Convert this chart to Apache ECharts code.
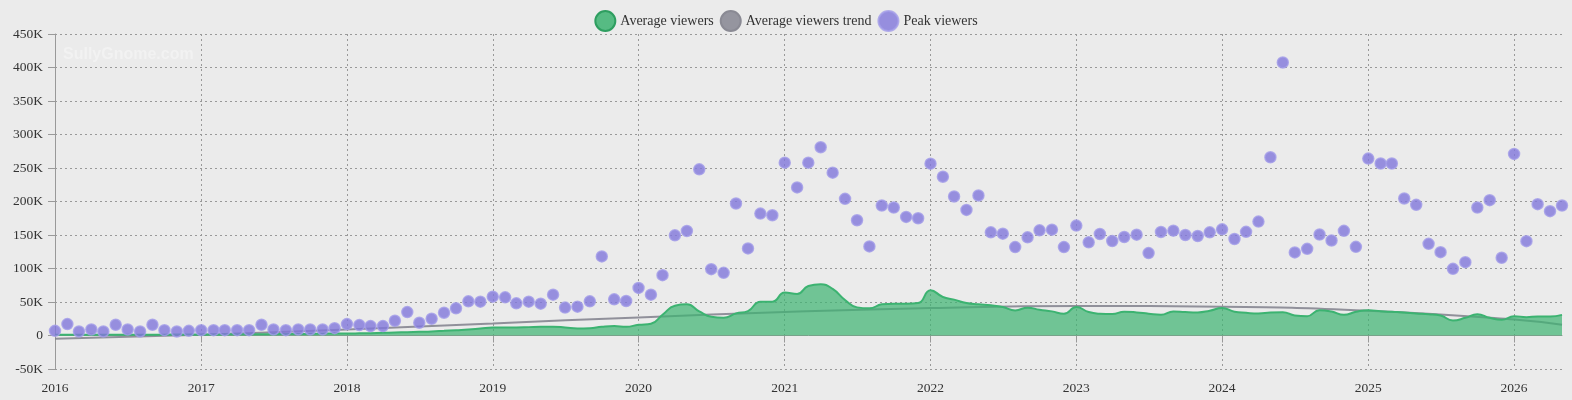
<!doctype html>
<html>
<head>
<meta charset="utf-8">
<script src="https://cdn.jsdelivr.net/npm/echarts@6/dist/echarts.min.js"></script>
<style>
    html, body { margin: 0; padding: 0; background: #ebebeb; }
    #chart { width: 1572px; height: 400px; }
</style>
</head>
<body>
<div id="chart"></div>
<script>
    // monthly data, Jan 2016 .. May 2026 (values in viewers)
    let startYear = 2016;
    let yearTicks = [2016, 2017, 2018, 2019, 2020, 2021, 2022, 2023, 2024, 2025, 2026];

    let avgViewers = [
        1.0, 1.0, 1.0, 1.0, 1.0, 1.1, 1.2, 1.2, 1.3, 1.3, 1.4, 1.5,
        1.5, 1.6, 1.7, 1.8, 2.0, 2.0, 2.0, 2.2, 2.3, 2.5, 2.7, 3.0,
        3.0, 3.2, 3.5, 4.0, 4.5, 5.0, 5.5, 6.0, 7.0, 8.0, 9.0, 10.5,
        12, 12, 12, 12.5, 13, 13, 12, 10.5, 11, 13, 14, 13,
        16, 17.5, 31, 44.5, 46.5, 36, 28, 26.5, 33, 36.5, 50.5, 50.5,
        64, 62, 74, 76.5, 69.5, 53, 42, 40.5, 46.5, 47.5, 47.5, 48.5,
        67.5, 57.5, 53.5, 48.5, 46.5, 45, 42.5, 37.5, 41.5, 38.5, 36, 32.5,
        42.5, 35, 32.5, 32, 35.5, 34.5, 32.5, 31, 36, 35, 34.5, 37,
        41, 35.5, 33.8, 32.8, 34.3, 34.8, 29.9, 28.9, 37.8, 35.8, 30.8, 35.3,
        37.8, 36.3, 35.3, 34.3, 32.8, 31.8, 29.9, 22.4, 26.4, 31.8, 26.4, 23.4,
        28.9, 27.4, 28.4, 28.4, 30.8
    ];

    let peakViewers = [
        7, 17, 6, 9, 6, 16, 9, 6, 16, 8, 6, 7,
        8, 8, 8, 8, 8, 16, 9, 8, 9, 9, 9, 11,
        17, 15.5, 14, 14, 22, 35, 19, 25, 34, 40.5, 51, 50.5,
        58, 57, 48, 50.5, 47.5, 61, 41.7, 43, 51, 118, 54, 51.5,
        71, 61, 90, 149.5, 156, 248, 99, 93.5, 197, 130, 182, 179.5,
        258, 221, 258, 281, 243, 204, 172, 133, 194, 191, 177, 175,
        256.5, 237, 207.5, 187.5, 209, 154, 152, 132, 146.5, 157, 158, 132,
        164, 139, 151.5, 141, 147, 150.5, 123, 154.5, 156.5, 150, 148.5, 154,
        158.5, 144, 154.7, 170, 266, 407.5, 124, 129.4, 150.7, 141.8, 156.2, 132.3,
        264, 256.7, 256.7, 204.5, 195, 136.8, 124.4, 99.5, 109.5, 191, 202, 116,
        271, 140.8, 196, 185.6, 194
    ];

    // trend line read at the start of each year (+ last month)
    let trendMonths = [0, 12, 24, 36, 48, 60, 72, 84, 96, 108, 120, 124];
    let trendValues = [-5, 1, 9, 18, 27, 35, 41, 44, 43, 37, 24, 16];

    function monthTime(i) {
        return Date.UTC(startYear, i, 1);
    }

    let avgData = [], peakData = [], trendData = [];
    for (let i = 0; i < avgViewers.length; i++) {
        avgData.push([monthTime(i), avgViewers[i] * 1000]);
    }
    for (let i = 0; i < peakViewers.length; i++) {
        peakData.push([monthTime(i), peakViewers[i] * 1000]);
    }
    for (let i = 0; i < trendMonths.length; i++) {
        trendData.push([monthTime(trendMonths[i]), trendValues[i] * 1000]);
    }
    let tickValues = yearTicks.map(function (y) { return Date.UTC(y, 0, 1); });

    let font = '"Liberation Serif", "Times New Roman", serif';
    let chart = echarts.init(document.getElementById('chart'));
    chart.setOption({
        backgroundColor: '#ebebeb',
        animation: false,
        textStyle: { fontFamily: font },
        graphic: [{
            type: 'text', left: 63, top: 47, silent: true,
            style: {
                text: 'SullyGnome.com', fill: 'rgba(255,255,255,0.35)',
                font: 'bold 16px "Liberation Sans", Arial, sans-serif'
            }
        }],
        legend: {
            top: 5, left: 'center', icon: 'circle',
            itemWidth: 20, itemHeight: 20, itemGap: 6,
            textStyle: { fontFamily: font, fontSize: 14, color: '#333' },
            data: ['Average viewers', 'Average viewers trend', 'Peak viewers']
        },
        grid: { left: 55, right: 10, top: 34, bottom: 31 },
        xAxis: {
            type: 'value',
            min: monthTime(0),
            max: monthTime(124),
            axisLine: { lineStyle: { color: '#999' } },
            axisTick: { length: 7, customValues: tickValues, lineStyle: { color: '#999' } },
            axisLabel: {
                customValues: tickValues, margin: 12,
                fontFamily: font, fontSize: 13.5, color: '#333',
                formatter: function (v) { return new Date(v).getUTCFullYear(); }
            },
            splitLine: { show: true, lineStyle: { color: '#999', type: [2, 3] } }
        },
        yAxis: {
            type: 'value', min: -50000, max: 450000, interval: 50000,
            axisLine: { show: true, lineStyle: { color: '#999' } },
            axisTick: { show: true, length: 7, lineStyle: { color: '#999' } },
            axisLabel: {
                margin: 12, fontFamily: font, fontSize: 13.5, color: '#333',
                formatter: function (v) { return v === 0 ? '0' : (v / 1000) + 'K'; }
            },
            splitLine: { lineStyle: { color: '#999', type: [2, 3] } }
        },
        series: [
            {
                name: 'Average viewers', type: 'line', z: 3,
                data: avgData, smooth: true, showSymbol: false,
                itemStyle: { color: 'rgba(60,179,113,0.85)', borderColor: '#2e9e60', borderWidth: 1 },
                lineStyle: { color: '#3cb371', width: 2 },
                areaStyle: { color: '#3cb371', opacity: 0.7, origin: 0 }
            },
            {
                name: 'Average viewers trend', type: 'line', z: 2,
                data: trendData, smooth: true, showSymbol: false,
                itemStyle: { color: 'rgba(128,128,140,0.8)', borderColor: '#8a8a94', borderWidth: 1 },
                lineStyle: { color: 'rgba(128,128,140,0.85)', width: 2 }
            },
            {
                name: 'Peak viewers', type: 'scatter', z: 4,
                data: peakData, symbolSize: 11,
                itemStyle: { color: '#8177db', borderColor: '#a29ce8', borderWidth: 1.5 }
            }
        ]
    });
</script>
</body>
</html>
